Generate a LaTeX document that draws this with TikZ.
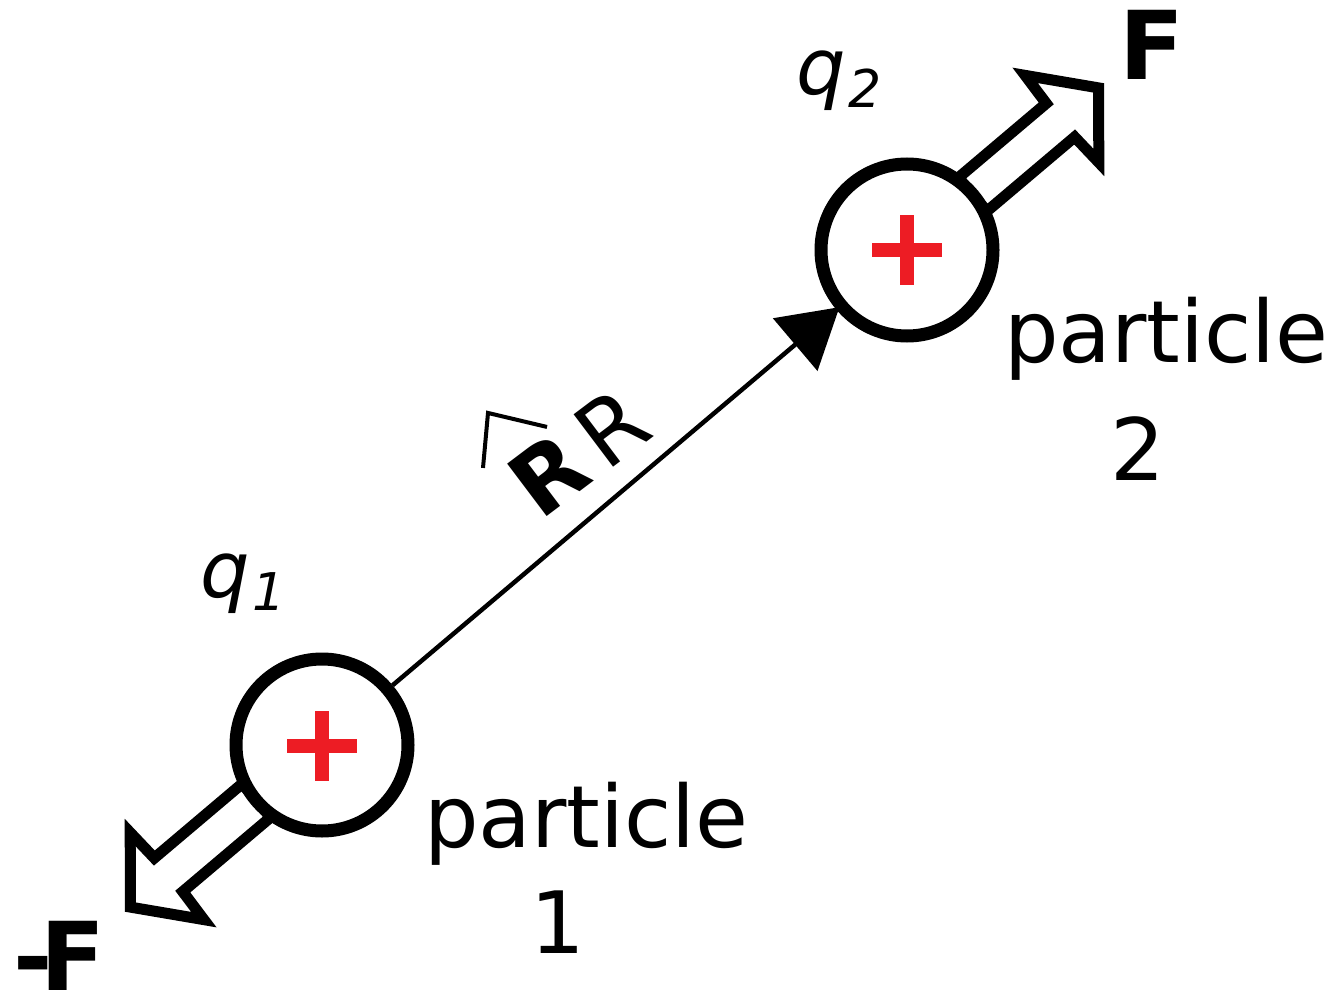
\documentclass[tikz,border=0pt]{standalone}
\usepackage{fontspec}
\setmainfont{DejaVu Sans}
\usetikzlibrary{arrows.meta}
\definecolor{plusred}{RGB}{237,28,36}
\begin{document}
\begin{tikzpicture}[x=1pt,y=-1pt,
  particle/.style={circle,draw,line width=13pt,fill=white,minimum size=172pt,inner sep=0pt},
  forcearrow/.style={draw,line width=11pt,fill=white,line join=miter,miter limit=10},
  lbl/.style={inner sep=0pt,outer sep=0pt,anchor=base west},
]
\useasboundingbox (0,0) rectangle (1333,995);
\coordinate (p1) at (322,745);
\coordinate (p2) at (907,250);
% force arrows
\begin{scope}[shift={(p2)},rotate=40.23,x=1pt,y=1pt]
\path[forcearrow] (86,-22) -- (201,-22) -- (203,-57) -- (251,0) -- (203,57) -- (201,22) -- (86,22) -- cycle;
\end{scope}
\begin{scope}[shift={(p1)},rotate=220.23,x=1pt,y=1pt]
\path[forcearrow] (86,-22) -- (201,-22) -- (203,-57) -- (251,0) -- (203,57) -- (201,22) -- (86,22) -- cycle;
\end{scope}
% particles
\node[particle] (c1) at (p1) {};
\node[particle] (c2) at (p2) {};
\begin{scope}[shift={(322,746)}]
\fill[plusred] (-35,-7) rectangle (35,7);
\fill[plusred] (-7,-35) rectangle (7,35);
\end{scope}
\begin{scope}[shift={(907,250)}]
\fill[plusred] (-35,-7) rectangle (35,7);
\fill[plusred] (-7,-35) rectangle (7,35);
\end{scope}
% connector
\draw[line width=4.5pt,-{Triangle[length=58pt,width=68pt]},shorten >=-4pt] (c1) -- (c2);
% labels
\node[lbl] (q2) at (796,95) {\fontsize{78}{78}\selectfont\itshape q\kern3pt\raisebox{-13pt}{\fontsize{52}{52}\selectfont 2}};
\node[lbl] (q1) at (200,597) {\fontsize{78}{78}\selectfont\itshape q\kern3pt\raisebox{-13pt}{\fontsize{52}{52}\selectfont 1}};
\node[lbl] (F) at (1119,80) {\fontsize{95}{95}\selectfont\bfseries F};
\node[lbl] (mF) at (13,990) {\fontsize{95}{95}\selectfont\bfseries -\kern-12pt F};
\node[lbl] (t2a) at (1004,362) {\fontsize{86}{86}\selectfont particle};
\node[lbl] (t2b) at (1110,480) {\fontsize{86}{86}\selectfont 2};
\node[lbl] (t1a) at (424,847) {\fontsize{86}{86}\selectfont particle};
\node[lbl] (t1b) at (530,953) {\fontsize{86}{86}\selectfont 1};
\begin{scope}[shift={(547,517)},rotate=37,x=1pt,y=1pt,transform shape]
\node[lbl] (R) at (-8,0) {\fontsize{90}{90}\selectfont{\bfseries R}\kern12.7pt R};
\draw[line width=4pt] (-21.6,77.7) -- (15.5,118.6) -- (54.2,71.9);
\end{scope}
\end{tikzpicture}
\end{document}
